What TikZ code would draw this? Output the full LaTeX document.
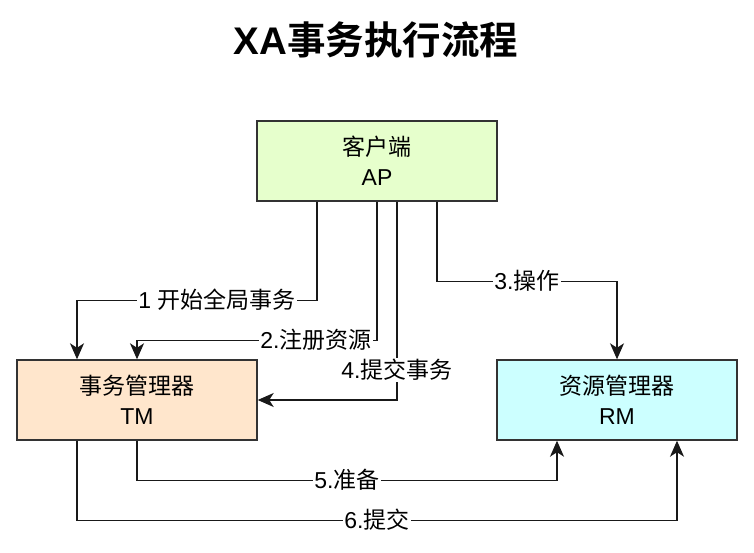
\documentclass[tikz,border=0pt]{standalone}
\usepackage{fontspec}
\setmainfont{Liberation Sans}
\newfontfamily\cjk{Noto Sans CJK SC}[BoldFont={Noto Sans CJK SC Bold}]
\usetikzlibrary{arrows.meta}
\definecolor{apfill}{HTML}{E6FFCC}
\definecolor{tmfill}{HTML}{FFE6CC}
\definecolor{rmfill}{HTML}{CCFFFF}
\definecolor{edgegray}{HTML}{333333}
\tikzset{
  box/.style={draw=edgegray, line width=1.4pt, minimum width=240pt, minimum height=80pt,
    align=center, font=\fontsize{23}{30}\selectfont, inner sep=0pt},
  conn/.style={draw=black!90, line width=1.3pt,
    -{Stealth[length=16pt, width=14pt, inset=4.5pt]}},
  lbl/.style={fill=white, inner sep=1pt, font=\fontsize{23}{26}\selectfont}
}
\begin{document}
\begin{tikzpicture}[x=1pt, y=-1pt]
\useasboundingbox (0,0) rectangle (754,553);
\node[font=\fontsize{38.5}{42}\selectfont\bfseries] (title) at (376,40) {XA\cjk 事务执行流程};
\node[box, fill=apfill] (AP) at (377,161) {{\cjk 客户端}\\AP};
\node[box, fill=tmfill] (TM) at (137,400) {{\cjk 事务管理器}\\TM};
\node[box, fill=rmfill] (RM) at (617,400) {{\cjk 资源管理器}\\RM};
% connectors
\draw[conn] ([xshift=-60pt]AP.south) -- ++(0,99) -| ([xshift=-60pt]TM.north);
\draw[conn] (AP.south) -- ++(0,139) -| (TM.north);
\draw[conn] ([xshift=60pt]AP.south) -- ++(0,80) -| (RM.north);
\draw[conn] ([xshift=20pt]AP.south) |- (TM.east);
\draw[conn] (TM.south) -- ++(0,40) -| ([xshift=-60pt]RM.south);
\draw[conn] ([xshift=-60pt]TM.south) -- ++(0,80) -| ([xshift=60pt]RM.south);
% labels
\node[lbl] (l1) at (217,300) {1 {\cjk 开始全局事务}};
\node[lbl] (l2) at (316,340) {2.{\cjk 注册资源}};
\node[lbl] (l3) at (527,281) {3.{\cjk 操作}};
\node[lbl] (l4) at (397,370) {4.{\cjk 提交事务}};
\node[lbl] (l5) at (347,480) {5.{\cjk 准备}};
\node[lbl] (l6) at (377,520) {6.{\cjk 提交}};
\end{tikzpicture}
\end{document}
